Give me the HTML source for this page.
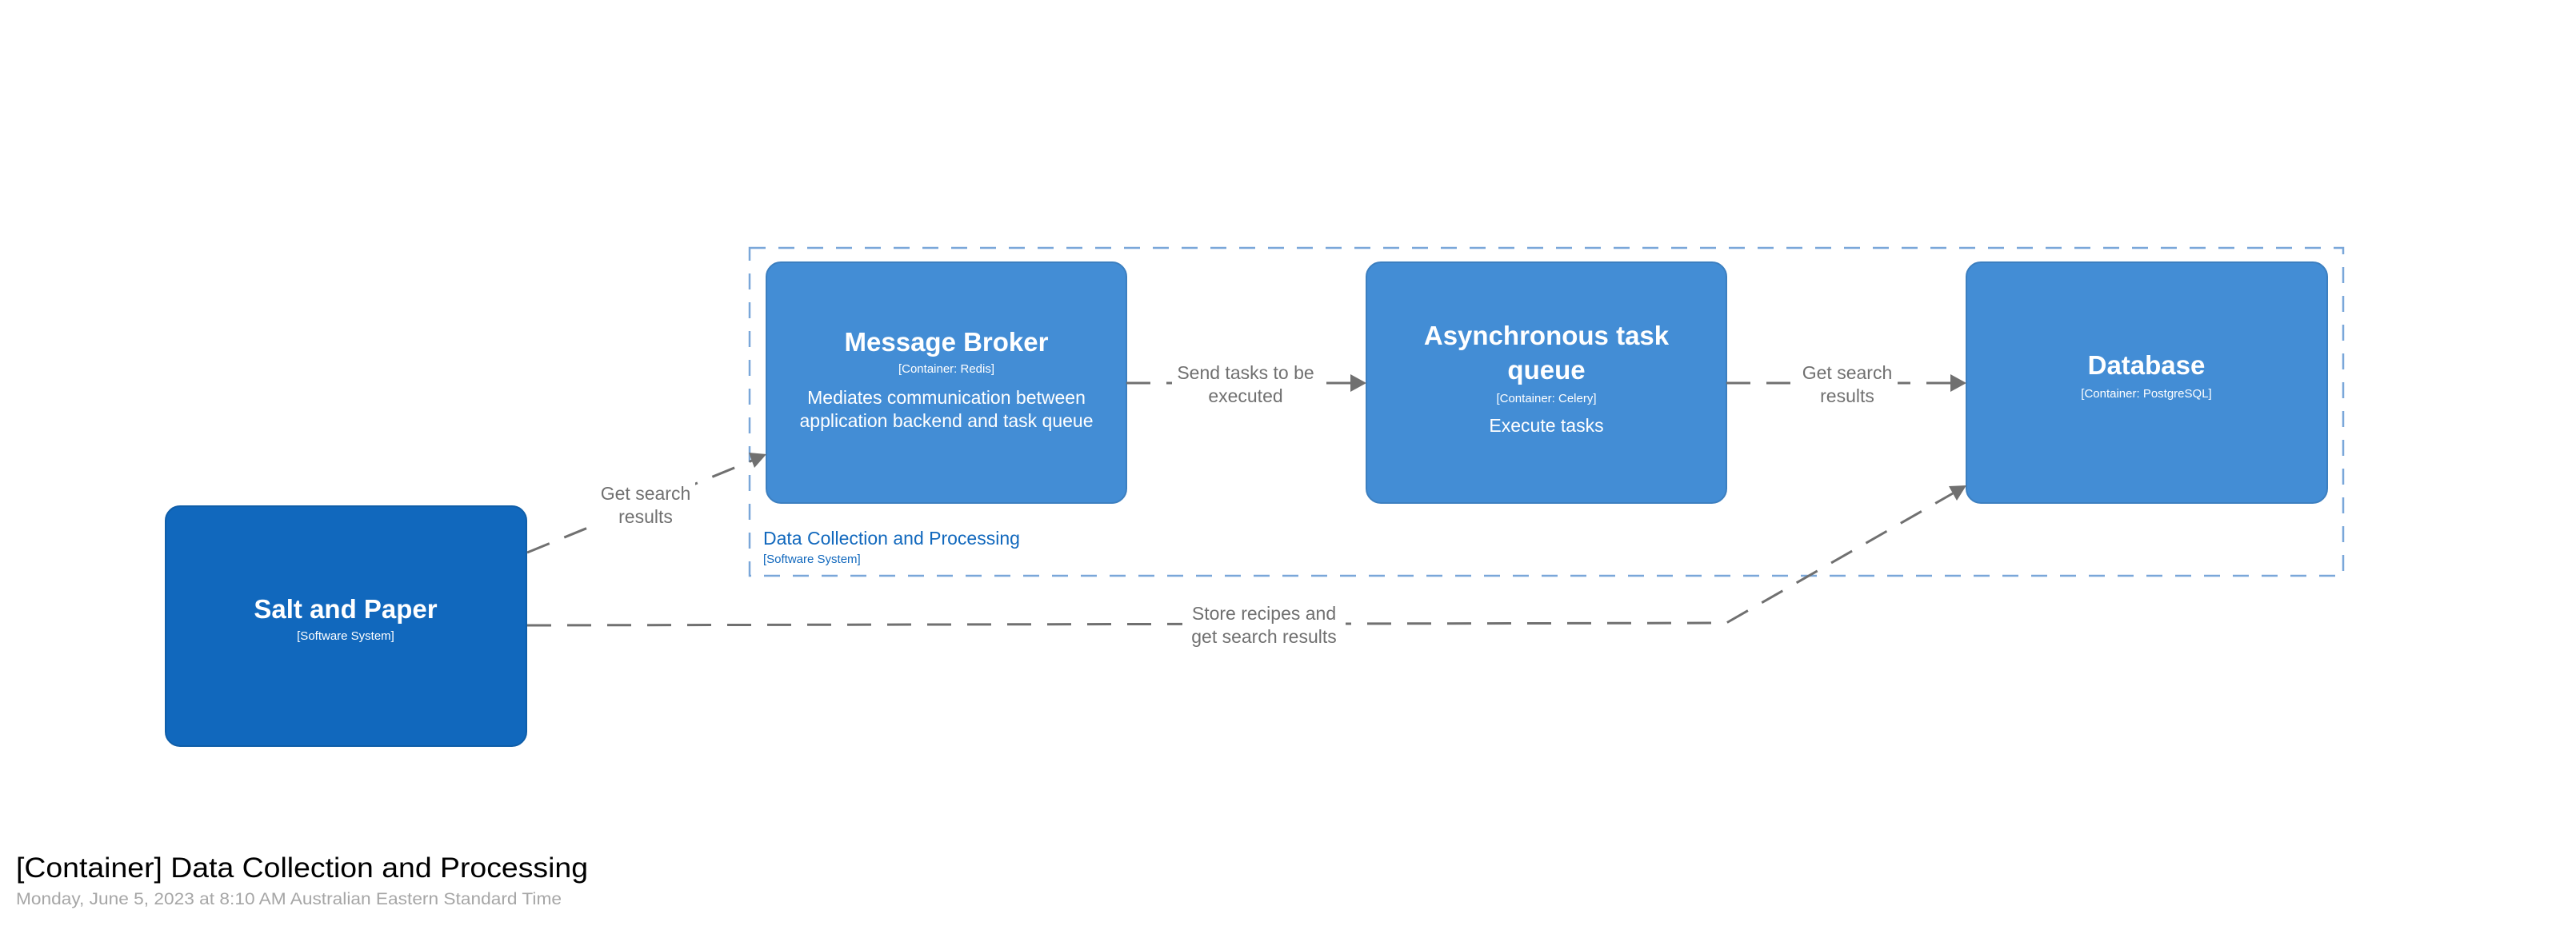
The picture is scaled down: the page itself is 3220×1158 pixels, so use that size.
<!DOCTYPE html>
<html><head><meta charset="utf-8"><style>
html,body{margin:0;padding:0;background:#fff;}
svg{display:block;font-family:"Liberation Sans",sans-serif;}
</style></head><body>
<svg width="3220" height="1158" viewBox="0 0 3220 1158" xmlns="http://www.w3.org/2000/svg">
<!-- boundary -->
<rect x="937" y="310" width="1992" height="410" fill="none" stroke="#7aa7d9" stroke-width="2.5" stroke-dasharray="20 16"/>
<text x="954" y="681" font-size="23" fill="#1168bd">Data Collection and Processing</text>
<text x="954" y="704" font-size="15" fill="#1168bd">[Software System]</text>

<!-- boxes -->
<rect x="207" y="633" width="451" height="300" rx="18" fill="#1168bd" stroke="#0f5ea9" stroke-width="2"/>
<rect x="958" y="328" width="450" height="301" rx="18" fill="#438dd5" stroke="#3c7fc0" stroke-width="2"/>
<rect x="1708" y="328" width="450" height="301" rx="18" fill="#438dd5" stroke="#3c7fc0" stroke-width="2"/>
<rect x="2458" y="328" width="451" height="301" rx="18" fill="#438dd5" stroke="#3c7fc0" stroke-width="2"/>

<g fill="#fff" text-anchor="middle">
<text x="432" y="773" font-size="33" font-weight="bold">Salt and Paper</text>
<text x="432" y="800" font-size="15">[Software System]</text>

<text x="1183" y="439" font-size="33" font-weight="bold">Message Broker</text>
<text x="1183" y="466" font-size="15">[Container: Redis]</text>
<text x="1183" y="505" font-size="23">Mediates communication between</text>
<text x="1183" y="534" font-size="23">application backend and task queue</text>

<text x="1933" y="431" font-size="33" font-weight="bold">Asynchronous task</text>
<text x="1933" y="474" font-size="33" font-weight="bold">queue</text>
<text x="1933" y="503" font-size="15">[Container: Celery]</text>
<text x="1933" y="540" font-size="23">Execute tasks</text>

<text x="2683" y="468" font-size="33" font-weight="bold">Database</text>
<text x="2683" y="497" font-size="15">[Container: PostgreSQL]</text>
</g>

<!-- edges -->
<g stroke="#707070" stroke-width="3" fill="none" stroke-dasharray="30 20">
<line x1="659" y1="691" x2="940" y2="576"/>
<line x1="1408" y1="479" x2="1690" y2="479"/>
<line x1="2158" y1="479" x2="2440" y2="479"/>
<polyline points="659,782 2158,779 2441,617"/>
</g>
<g fill="#707070">
<polygon points="958,568 943,585 936,566"/>
<polygon points="1708,479 1688,468 1688,490"/>
<polygon points="2458,479 2438,468 2438,490"/>
<polygon points="2458,607 2446,626 2436,608"/>
</g>
<!-- edge labels -->
<g fill="#707070" font-size="23" text-anchor="middle">
<rect x="745" y="595" width="124" height="60" fill="#fff"/>
<text x="807" y="625">Get search</text>
<text x="807" y="654">results</text>
<rect x="1465" y="450" width="184" height="60" fill="#fff"/>
<text x="1557" y="474">Send tasks to be</text>
<text x="1557" y="503">executed</text>
<rect x="2248" y="450" width="124" height="60" fill="#fff"/>
<text x="2309" y="474">Get search</text>
<text x="2309" y="503">results</text>
<rect x="1478" y="750" width="204" height="60" fill="#fff"/>
<text x="1580" y="775">Store recipes and</text>
<text x="1580" y="804">get search results</text>
</g>

<text x="20" y="1097" font-size="35" fill="#000" textLength="715" lengthAdjust="spacingAndGlyphs">[Container] Data Collection and Processing</text>
<text x="20" y="1131" font-size="21" fill="#a6a6a6" textLength="682" lengthAdjust="spacingAndGlyphs">Monday, June 5, 2023 at 8:10 AM Australian Eastern Standard Time</text>
</svg>
</body></html>
